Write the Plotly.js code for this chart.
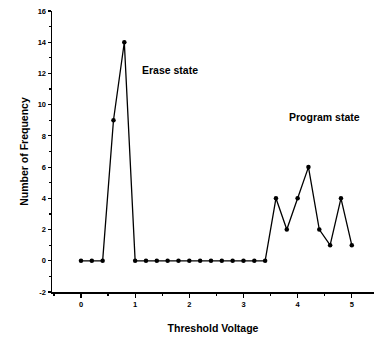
<!DOCTYPE html>
<html>
<head>
<meta charset="utf-8">
<script src="https://cdn.plot.ly/plotly-3.0.1.min.js"></script>
<style>html,body{margin:0;padding:0;background:#fff;}#chart{width:374px;height:338px;}</style>
</head>
<body>
<div id="chart"></div>
<script>
const voltage = [0, 0.2, 0.4, 0.6, 0.8, 1.0, 1.2, 1.4, 1.6, 1.8, 2.0, 2.2, 2.4, 2.6, 2.8, 3.0, 3.2, 3.4, 3.6, 3.8, 4.0, 4.2, 4.4, 4.6, 4.8, 5.0];
const frequency = [0, 0, 0, 9, 14, 0, 0, 0, 0, 0, 0, 0, 0, 0, 0, 0, 0, 0, 4, 2, 4, 6, 2, 1, 4, 1];
const xTicks = [0, 1, 2, 3, 4, 5];
const yTicks = [-2, 0, 2, 4, 6, 8, 10, 12, 14, 16];
const labels = [
  {text: "Erase state", x: 1.64, y: 12.2},
  {text: "Program state", x: 4.5, y: 9.2}
];

const fontFam = "Liberation Sans, Arial, sans-serif";
const data = [{
  x: voltage, y: frequency, type: "scatter", mode: "lines+markers",
  line: {color: "#000", width: 1.3},
  marker: {symbol: "circle", size: 4.5, color: "#000"},
  showlegend: false
}];
const layout = {
  width: 374, height: 338,
  margin: {l: 52, r: 0, t: 11, b: 46},
  paper_bgcolor: "#fff", plot_bgcolor: "#fff",
  font: {family: fontFam, color: "#000"},
  xaxis: {
    range: [-0.535, 5.41], tickvals: xTicks, ticktext: xTicks.map(v => "<b>" + v + "</b>"),
    showgrid: false, zeroline: false, showline: true, linecolor: "#000", linewidth: 1.5,
    ticks: "outside", ticklen: 4, tickwidth: 1.2, tickcolor: "#000",
    minor: {dtick: 0.5, tick0: 0, ticks: "outside", ticklen: 2, tickcolor: "#000", showgrid: false},
    tickfont: {size: 7.5, family: fontFam, color: "#000"},
    title: {text: "<b>Threshold Voltage</b>", font: {size: 10.5, family: fontFam, color: "#000"}, standoff: 17}
  },
  yaxis: {
    range: [-2, 16], tickvals: yTicks, ticktext: yTicks.map(v => "<b>" + v + "</b>"),
    showgrid: false, zeroline: false, showline: true, linecolor: "#000", linewidth: 1.5,
    ticks: "outside", ticklen: 3, tickwidth: 1.2, tickcolor: "#000",
    minor: {dtick: 1, tick0: 0, ticks: "outside", ticklen: 2, tickcolor: "#000", showgrid: false},
    tickfont: {size: 7.5, family: fontFam, color: "#000"},
    title: {text: "<b>Number of Frequency</b>", font: {size: 10.5, family: fontFam, color: "#000"}, standoff: 7}
  },
  annotations: labels.map(l => ({
    text: "<b>" + l.text + "</b>", x: l.x, y: l.y, xref: "x", yref: "y",
    showarrow: false, font: {size: 10.5, family: fontFam, color: "#000"}
  }))
};
Plotly.newPlot("chart", data, layout, {displayModeBar: false, staticPlot: true});
</script>
</body>
</html>
